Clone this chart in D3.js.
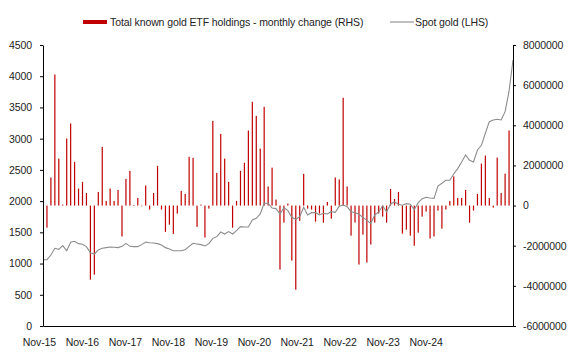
<!DOCTYPE html>
<html><head><meta charset="utf-8">
<script src="https://cdn.jsdelivr.net/npm/d3@7"></script>
<style>
html,body{margin:0;padding:0;background:#fff;}
svg{display:block;font-family:"Liberation Sans",Arial,sans-serif;}
svg text{letter-spacing:-0.1px;}
</style></head>
<body>
<svg id="chart" width="577" height="357"></svg>
<script>
// Months Nov-15 .. Oct-25 (category axis)
const startMonth = new Date(2015, 10, 1);
const monthCount = 120;
const months = d3.timeMonth.range(startMonth, d3.timeMonth.offset(startMonth, monthCount));

// Total known gold ETF holdings - monthly change (RHS), oz; Dec-15 .. Sep-25
const etfChange = [null,
 -1100000, 1400000, 6530000, 2340000, 50000, 3340000, 4090000, 2180000, 850000, 1180000,
 630000, -3690000, -3440000, 680000, 2920000, 230000, 850000, 230000, 780000, -1540000,
 1330000, 1730000, 30000, 380000, -30000, 1000000, -200000, 630000, 1980000, -200000,
 -1310000, -950000, -1410000, -400000, 730000, 580000, 2430000, 2380000, -1060000, 50000,
 -1590000, -150000, 4220000, 1630000, 3570000, 2340000, 1180000, -1100000, 230000, 1730000,
 2130000, 3740000, 5170000, 4470000, 2840000, 4920000, 950000, 1890000, 300000, -3190000,
 -850000, 100000, -2740000, -4190000, -760000, 1580000, -150000, -200000, -800000, -400000,
 -850000, 180000, -650000, 1400000, 1300000, 5370000, 950000, -1500000, -850000, -2940000,
 -1450000, -2840000, -1940000, -850000, -400000, -550000, -850000, 830000, 330000, 680000,
 -1400000, -1200000, -1500000, -2000000, -1350000, -550000, -300000, -1640000, -1540000, -250000,
 -1150000, -200000, 230000, 1450000, 380000, 380000, 780000, -850000, -250000, 580000,
 2090000, 2490000, 380000, -100000, 2390000, 630000, 1590000, 3740000,
 null];

// Spot gold (LHS), USD/oz; Nov-15 .. Oct-25
const spotGold = [
 1062, 1062, 1137, 1244, 1228, 1287, 1206, 1340, 1356, 1319,
 1308, 1271, 1174, 1153, 1217, 1244, 1255, 1265, 1260, 1255,
 1276, 1324, 1276, 1271, 1271, 1303, 1345, 1334, 1329, 1319,
 1297, 1255, 1233, 1206, 1206, 1206, 1222, 1276, 1324, 1313,
 1303, 1281, 1319, 1404, 1431, 1505, 1473, 1511, 1473, 1527,
 1591, 1586, 1586, 1698, 1724, 1794, 1965, 1965, 1890, 1880,
 1794, 1895, 1847, 1740, 1708, 1751, 1900, 1778, 1815, 1815,
 1778, 1804, 1794, 1831, 1820, 1917, 1938, 1911, 1831, 1815,
 1789, 1740, 1692, 1644, 1778, 1826, 1927, 1826, 1954, 1986,
 1949, 1933, 1959, 1949, 1863, 1975, 2039, 2061, 2050, 2045,
 2242, 2285, 2333, 2333, 2434, 2520, 2627, 2739, 2653, 2627,
 2819, 2893, 3086, 3272, 3299, 3310, 3299, 3433, 3760, 4260];

const xTickLabels = ["Nov-15","Nov-16","Nov-17","Nov-18","Nov-19","Nov-20","Nov-21","Nov-22","Nov-23","Nov-24"];
const leftTicks = [0,500,1000,1500,2000,2500,3000,3500,4000,4500];
const rightTicks = [-6000000,-4000000,-2000000,0,2000000,4000000,6000000,8000000];

const seriesNames = ["Total known gold ETF holdings - monthly change (RHS)", "Spot gold (LHS)"];
const barColor = "#C00000";
const lineColor = "#8c8c8c";
const textColor = "#222";
const fontSize = 10.5;

const svg = d3.select("#chart");
const plotLeft = 43, plotRight = 513, plotTop = 45, plotBottom = 326;

const x = d3.scaleLinear().domain([0, monthCount - 1]).range([plotLeft, plotRight]);
const yL = d3.scaleLinear().domain([0, 4500]).range([plotBottom, plotTop]);
const yR = d3.scaleLinear().domain([-6000000, 8000000]).range([plotBottom, plotTop]);

// bars
svg.append("g").selectAll("rect")
  .data(etfChange.map((v, i) => ({v, i})).filter(d => d.v !== null))
  .join("rect")
  .attr("x", d => x(d.i) - 0.6)
  .attr("width", 1.2)
  .attr("y", d => Math.min(yR(d.v), yR(0)))
  .attr("height", d => Math.abs(yR(d.v) - yR(0)))
  .attr("fill", barColor);

// line
const line = d3.line().x((d, i) => x(i)).y(d => yL(d));
svg.append("path").datum(spotGold)
  .attr("d", line).attr("fill", "none")
  .attr("stroke", lineColor).attr("stroke-width", 1.1);

// axes
const styleAxis = g => {
  g.selectAll("path.domain").attr("stroke", "#000");
  g.selectAll(".tick line").attr("stroke", "#000");
  g.selectAll("text").attr("fill", textColor).attr("font-size", fontSize)
    .attr("font-family", '"Liberation Sans", Arial, sans-serif');
};

svg.append("g").attr("transform", `translate(${plotLeft},0)`)
  .call(d3.axisLeft(yL).tickValues(leftTicks).tickSize(3).tickSizeOuter(0).tickPadding(8).tickFormat(d => String(d)))
  .call(styleAxis);

svg.append("g").attr("transform", `translate(${plotRight},0)`)
  .call(d3.axisRight(yR).tickValues(rightTicks).tickSize(3).tickSizeOuter(0).tickPadding(7).tickFormat(d => String(d)))
  .call(styleAxis);

svg.append("g").attr("transform", `translate(0,${plotBottom})`)
  .call(d3.axisBottom(x).tickValues([]).tickSizeOuter(0))
  .call(styleAxis);

// x labels
const xl = d3.scalePoint().domain(xTickLabels).range([x(-0.9), x(97)]);
svg.append("g").selectAll("text").data(xTickLabels).join("text")
  .attr("x", d => xl(d)).attr("y", 346)
  .attr("text-anchor", "middle").attr("font-size", fontSize).attr("fill", textColor)
  .text(d => d);

// legend
const lg = svg.append("g");
lg.append("rect").attr("x", 83).attr("y", 20).attr("width", 24).attr("height", 4).attr("fill", barColor);
lg.append("text").attr("x", 110).attr("y", 26).attr("font-size", fontSize).attr("fill", textColor).text(seriesNames[0]);
lg.append("line").attr("x1", 390).attr("x2", 414).attr("y1", 22).attr("y2", 22).attr("stroke", lineColor).attr("stroke-width", 1.1);
lg.append("text").attr("x", 415).attr("y", 26).attr("font-size", fontSize).attr("fill", textColor).text(seriesNames[1]);
</script>
</body></html>
